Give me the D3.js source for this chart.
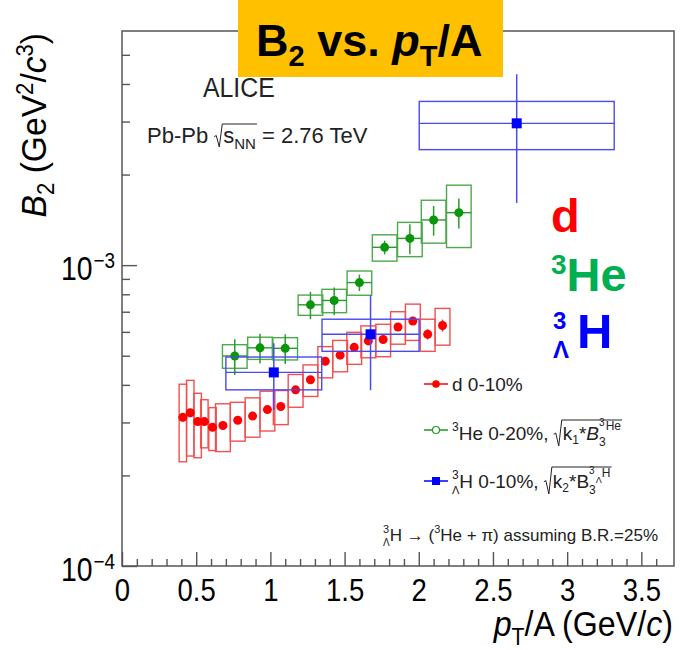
<!DOCTYPE html>
<html>
<head>
<meta charset="utf-8">
<script src="https://cdn.jsdelivr.net/npm/d3@7"></script>
<style>
  body { margin: 0; background: #fff; }
  text { white-space: pre; font-family: "Liberation Sans", Arial, Helvetica, sans-serif; }
</style>
</head>
<body>
<svg id="chart" width="683" height="650"></svg>
<script>
// ---- deuteron B2, Pb-Pb 0-10% ----
const dPt      = [0.41, 0.46, 0.51, 0.555, 0.61, 0.68, 0.78, 0.88, 0.98, 1.07, 1.17, 1.27, 1.37, 1.47, 1.565, 1.66, 1.76, 1.86, 1.96, 2.06, 2.16];
const dB2      = [3.12e-4, 3.23e-4, 3.02e-4, 3.02e-4, 2.89e-4, 2.93e-4, 3.05e-4, 3.15e-4, 3.31e-4, 3.39e-4, 3.85e-4, 4.16e-4, 4.79e-4, 5.02e-4, 5.33e-4, 5.60e-4, 5.66e-4, 6.23e-4, 6.52e-4, 5.89e-4, 6.30e-4];
const dStat    = [0.10e-4, 0.10e-4, 0.09e-4, 0.09e-4, 0.08e-4, 0.08e-4, 0.08e-4, 0.08e-4, 0.09e-4, 0.09e-4, 0.10e-4, 0.11e-4, 0.12e-4, 0.13e-4, 0.14e-4, 0.15e-4, 0.16e-4, 0.18e-4, 0.20e-4, 0.23e-4, 0.29e-4];
const dSys     = [0.90e-4, 0.91e-4, 0.73e-4, 0.55e-4, 0.47e-4, 0.53e-4, 0.45e-4, 0.47e-4, 0.50e-4, 0.44e-4, 0.48e-4, 0.50e-4, 0.57e-4, 0.60e-4, 0.65e-4, 0.68e-4, 0.70e-4, 0.77e-4, 0.90e-4, 0.72e-4, 0.88e-4];
const dBinHalf = [0.025, 0.025, 0.025, 0.025, 0.025, 0.05, 0.05, 0.05, 0.05, 0.05, 0.05, 0.05, 0.05, 0.05, 0.05, 0.05, 0.05, 0.05, 0.05, 0.05, 0.05];

// ---- 3He, 0-20%, sqrt(k1 * B3) ----
const hePt      = [0.76, 0.93, 1.10, 1.27, 1.43, 1.60, 1.77, 1.94, 2.10, 2.27];
const heB2      = [4.99e-4, 5.31e-4, 5.29e-4, 7.38e-4, 7.63e-4, 8.75e-4, 1.146e-3, 1.227e-3, 1.413e-3, 1.494e-3];
const heStat    = [0.68e-4, 0.60e-4, 0.60e-4, 0.77e-4, 0.80e-4, 0.55e-4, 0.60e-4, 1.40e-4, 1.60e-4, 1.70e-4];
const heSys     = [0.45e-4, 0.45e-4, 0.45e-4, 0.57e-4, 0.68e-4, 0.81e-4, 1.15e-4, 1.60e-4, 2.30e-4, 3.50e-4];
const heBinHalf = [0.083, 0.083, 0.083, 0.083, 0.083, 0.083, 0.083, 0.083, 0.083, 0.083];

// ---- hypertriton, 0-10%, sqrt(k2 * B3) ----
const hlPt      = [1.023, 1.675, 2.66];
const hlB2      = [4.40e-4, 5.89e-4, 2.96e-3];
const hlStat    = [1.10e-4, 2.05e-4, 1.35e-3];
const hlSys     = [0.55e-4, 0.72e-4, 0.54e-3];
const hlBinHalf = [0.323, 0.327, 0.657];

// ---- axes ----
const xMajorTicks = [0, 0.5, 1, 1.5, 2, 2.5, 3, 3.5];
const xMinorTicks = d3.range(0, 37).map(i => i / 10).filter(v => Math.round(v * 10) % 5 !== 0);
const yMajorTicks = [1e-4, 1e-3];
const yMajorLabels = ["\u22124", "\u22123"];
const yMinorTicks = [2e-4, 3e-4, 4e-4, 5e-4, 6e-4, 7e-4, 8e-4, 9e-4, 2e-3, 3e-3, 4e-3, 5e-3];

const FONT = '"Liberation Sans", Arial, Helvetica, sans-serif';
const svg = d3.select("#chart");
const frame = { left: 122, right: 674, top: 31, bottom: 566 };

const x = d3.scaleLinear().domain([0, 3.72]).range([frame.left, frame.right]);
const y = d3.scaleLog().domain([1e-4, 6e-3]).range([frame.bottom, frame.top]);

// Rich text helper: a run of pieces with their own size, offset and style.
function rich(parent, parts, opt) {
  const g = parent.append("g");
  let cx = 0, lastX = 0, sqrtStart = null;
  const marks = [];
  parts.forEach(p => {
    if (p.sqrtStart) { sqrtStart = { x: cx, top: p.top, bot: p.bot }; cx += p.w; return; }
    if (p.sqrtEnd) { marks.push({ x0: sqrtStart.x, x1: cx + (p.pad || 0), top: sqrtStart.top, bot: sqrtStart.bot }); return; }
    const x0 = p.stack ? lastX : cx + (p.dx || 0);
    const t = g.append("text")
      .attr("x", x0).attr("y", p.dy || 0)
      .attr("font-size", p.fs || opt.fs)
      .attr("font-style", p.it ? "italic" : null)
      .attr("font-weight", opt.weight || null)
      .attr("fill", opt.fill || "#000")
      .text(p.t);
    const w = t.node().getComputedTextLength();
    if (p.stack) cx = Math.max(cx, x0 + w);
    else { lastX = x0; cx = x0 + w; }
  });
  marks.forEach(m => {
    const h = m.bot - m.top;
    g.append("path")
      .attr("d", `M${m.x0},${m.bot - h * 0.45} L${m.x0 + 2},${m.bot - h * 0.5} L${m.x0 + 5},${m.bot} L${m.x0 + 8},${m.top} L${m.x1},${m.top}`)
      .attr("fill", "none").attr("stroke", opt.fill || "#000").attr("stroke-width", 1);
  });
  return { g, width: cx };
}

// ---- frame and ticks ----
const axisColor = "#555";
function styleAxis(g) {
  g.select(".domain").remove();
  g.selectAll(".tick line").attr("stroke", axisColor).attr("stroke-width", 1.4);
}

svg.append("g").attr("transform", `translate(0,${frame.bottom})`)
  .call(d3.axisBottom(x).tickValues(xMinorTicks).tickSize(-7).tickFormat(""))
  .call(styleAxis);

const gxMajor = svg.append("g").attr("transform", `translate(0,${frame.bottom})`)
  .call(d3.axisBottom(x).tickValues(xMajorTicks).tickSize(-14).tickPadding(6).tickFormat(d => String(d)))
  .call(styleAxis);
gxMajor.selectAll(".tick text")
  .attr("font-family", FONT).attr("font-size", 32).attr("fill", "#000")
  .attr("y", 35).attr("dy", null)
  .attr("transform", "scale(0.86,1)");

svg.append("g").attr("transform", `translate(${frame.left},0)`)
  .call(d3.axisLeft(y).tickValues(yMinorTicks).tickSize(-8).tickFormat(""))
  .call(styleAxis);
svg.append("g").attr("transform", `translate(${frame.left},0)`)
  .call(d3.axisLeft(y).tickValues(yMajorTicks).tickSize(-15).tickFormat(""))
  .call(styleAxis);

yMajorTicks.forEach((v, i) => {
  const r = rich(svg, [
    { t: "10", fs: 33 },
    { t: yMajorLabels[i], fs: 22, dy: -12, dx: 1 }
  ], { fs: 33 });
  r.g.attr("transform", `translate(${frame.left - 7 - r.width * 0.86},${y(v) + 15}) scale(0.86,1)`);
});

svg.append("rect")
  .attr("x", frame.left).attr("y", frame.top)
  .attr("width", frame.right - frame.left).attr("height", frame.bottom - frame.top)
  .attr("fill", "none").attr("stroke", axisColor).attr("stroke-width", 1.5);

// ---- axis titles ----
{
  const r = rich(svg, [
    { t: "p", it: true },
    { t: "T", fs: 23, dy: 9 },
    { t: "/A (GeV/" },
    { t: "c", it: true },
    { t: ")" }
  ], { fs: 35 });
  r.g.attr("transform", `translate(${frame.right - 1 - r.width * 0.92},636) scale(0.92,1)`);
}
{
  const r = rich(svg, [
    { t: "B", it: true },
    { t: "2", fs: 23, dy: 8 },
    { t: " (GeV" },
    { t: "2", fs: 23, dy: -13 },
    { t: "/" },
    { t: "c", it: true },
    { t: "3", fs: 23, dy: -13 },
    { t: ")" }
  ], { fs: 35 });
  r.g.attr("transform", `translate(46,${frame.top + 2}) rotate(-90) translate(${-r.width * 0.96},0) scale(0.96,1)`);
}

// ---- data layers ----
const plot = svg.append("g");

function drawSeries(pt, val, stat, sys, half, colors, withXBar, marker) {
  const g = plot.append("g");
  pt.forEach((p, i) => {
    const x0 = x(p - half[i]), x1 = x(p + half[i]);
    const yt = y(val[i] + sys[i]), yb = y(val[i] - sys[i]);
    g.append("rect")
      .attr("x", x0).attr("y", yt).attr("width", x1 - x0).attr("height", yb - yt)
      .attr("fill", "none").attr("stroke", colors.box).attr("stroke-width", 1.4);
    if (withXBar) {
      g.append("line").attr("x1", x0).attr("x2", x1).attr("y1", y(val[i])).attr("y2", y(val[i]))
        .attr("stroke", colors.bar).attr("stroke-width", 1.4);
    }
    g.append("line").attr("x1", x(p)).attr("x2", x(p))
      .attr("y1", y(val[i] + stat[i])).attr("y2", y(val[i] - stat[i]))
      .attr("stroke", colors.bar).attr("stroke-width", 1.5);
  });
  pt.forEach((p, i) => {
    if (marker === "square") {
      g.append("rect").attr("x", x(p) - 5).attr("y", y(val[i]) - 5).attr("width", 10).attr("height", 10)
        .attr("fill", colors.marker);
    } else {
      g.append("circle").attr("cx", x(p)).attr("cy", y(val[i])).attr("r", 4.5)
        .attr("fill", colors.marker);
    }
  });
}

drawSeries(dPt, dB2, dStat, dSys, dBinHalf, { box: "#f25050", bar: "#f03030", marker: "#ff0000" }, false, "circle");
drawSeries(hePt, heB2, heStat, heSys, heBinHalf, { box: "#4caa4c", bar: "#2c9a2c", marker: "#0a960a" }, true, "circle");
drawSeries(hlPt, hlB2, hlStat, hlSys, hlBinHalf, { box: "#4a4af0", bar: "#4a4af0", marker: "#0000ff" }, true, "square");

// ---- in-frame labels ----
svg.append("text").attr("x", 203).attr("y", 97).attr("font-size", 27).attr("fill", "#222")
  .attr("transform", "translate(203,97) scale(0.92,1) translate(-203,-97)").text("ALICE");

{
  const r = rich(svg, [
    { t: "Pb-Pb " },
    { sqrtStart: true, w: 9, top: -19, bot: 4 },
    { t: "s" },
    { t: "NN", fs: 15, dy: 6 },
    { sqrtEnd: true, pad: 1 },
    { t: " = 2.76 TeV" }
  ], { fs: 22, fill: "#222" });
  r.g.attr("transform", "translate(147,143)");
}

// legend
const legend = [
  { y: 384, color: "#ff0000", marker: "dot" },
  { y: 430, color: "#1f9a1f", marker: "open" },
  { y: 481, color: "#0000ff", marker: "square" }
];
legend.forEach(l => {
  svg.append("line").attr("x1", 424).attr("x2", 448).attr("y1", l.y).attr("y2", l.y)
    .attr("stroke", l.color).attr("stroke-width", 1.5);
  if (l.marker === "dot") svg.append("circle").attr("cx", 436).attr("cy", l.y).attr("r", 3.8).attr("fill", l.color);
  else if (l.marker === "open") svg.append("circle").attr("cx", 436).attr("cy", l.y).attr("r", 3.5).attr("fill", "#fff").attr("stroke", l.color).attr("stroke-width", 1.2);
  else svg.append("rect").attr("x", 432).attr("y", l.y - 4).attr("width", 8).attr("height", 8).attr("fill", l.color);
});
rich(svg, [{ t: "d 0-10%" }], { fs: 19, fill: "#222" }).g.attr("transform", "translate(452,391)");
rich(svg, [
  { t: "3", fs: 12, dy: -9 },
  { t: "He 0-20%, " },
  { sqrtStart: true, w: 9, top: -20, bot: 6 },
  { t: "k" },
  { t: "1", fs: 12, dy: 4 },
  { t: "*" },
  { t: "B", it: true },
  { t: "3", fs: 12, dy: 6 },
  { t: "3", fs: 10, dy: -14, stack: true },
  { t: "He", fs: 12, dy: -10 },
  { sqrtEnd: true, pad: 1 }
], { fs: 19, fill: "#222" }).g.attr("transform", "translate(452,440)");
rich(svg, [
  { t: "3", fs: 12, dy: -9 },
  { t: "\u039B", fs: 11, dy: 6, stack: true },
  { t: "H 0-10%, " },
  { sqrtStart: true, w: 9, top: -21, bot: 6 },
  { t: "k" },
  { t: "2", fs: 12, dy: 4 },
  { t: "*B" },
  { t: "3", fs: 12, dy: 6 },
  { t: "3", fs: 10, dy: -14, stack: true },
  { t: "\u039B", fs: 9, dy: -5 },
  { t: "H", fs: 12, dy: -11 },
  { sqrtEnd: true, pad: 1 }
], { fs: 19, fill: "#222" }).g.attr("transform", "translate(452,488)");

// decay note
{
  const r = rich(svg, [
    { t: "3", fs: 11, dy: -8 },
    { t: "\u039B", fs: 10, dy: 5, stack: true },
    { t: "H \u2192 (" },
    { t: "3", fs: 11, dy: -8 },
    { t: "He + \u03C0) assuming B.R.=25%" }
  ], { fs: 17, fill: "#222" });
  r.g.attr("transform", `translate(${658 - r.width},541)`);
}

// ---- species labels ----
rich(svg, [{ t: "d" }], { fs: 47, weight: "bold", fill: "#ff0000" }).g.attr("transform", "translate(551,232)");
rich(svg, [
  { t: "3", fs: 28, dy: -17 },
  { t: "He" }
], { fs: 47, weight: "bold", fill: "#00b050" }).g.attr("transform", "translate(551,291)");
rich(svg, [
  { t: "3", fs: 24, dy: -19 },
  { t: "\u039B", fs: 24, dy: 10, stack: true },
  { t: "H", dx: 8, fs: 49 }
], { fs: 47, weight: "bold", fill: "#0000ff" }).g.attr("transform", "translate(553,348)");

// ---- title banner ----
svg.append("rect").attr("x", 238).attr("y", 0).attr("width", 265).attr("height", 77).attr("fill", "#ffc000");
rich(svg, [
  { t: "B" },
  { t: "2", fs: 29, dy: 10 },
  { t: " vs. " },
  { t: "p", it: true },
  { t: "T", fs: 29, dy: 10 },
  { t: "/A" }
], { fs: 45, weight: "bold", fill: "#000" }).g.attr("transform", "translate(256,56)");
</script>
</body>
</html>
